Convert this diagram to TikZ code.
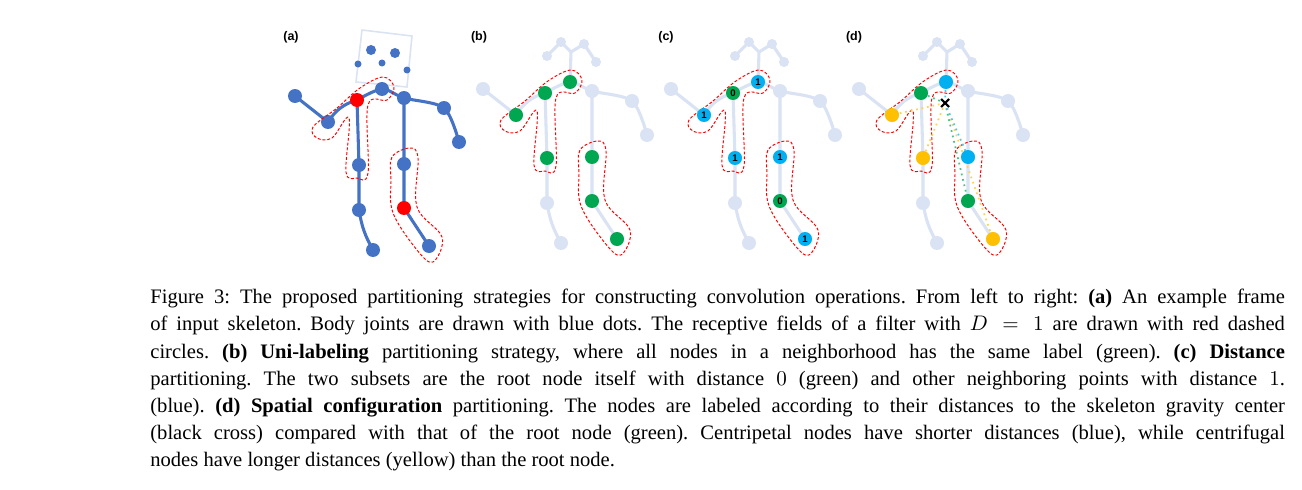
\documentclass[tikz,border=0pt]{standalone}
\usepackage{fontspec}
\setmainfont{Liberation Serif}
\newfontfamily\lsans{Liberation Sans}
\definecolor{jblue}{RGB}{68,114,196}
\definecolor{pale}{RGB}{218,227,243}
\definecolor{jgreen}{RGB}{0,166,80}
\definecolor{jcyan}{RGB}{0,176,240}
\definecolor{jyel}{RGB}{255,192,0}
\newcommand\defjoints[1]{%
 \coordinate (#1lh) at (295,96);
 \coordinate (#1le) at (328,122);
 \coordinate (#1ls) at (357,100);
 \coordinate (#1nk) at (382,89);
 \coordinate (#1rs) at (404,98);
 \coordinate (#1re) at (444,108);
 \coordinate (#1rh) at (459,142);
 \coordinate (#1lp) at (359,165);
 \coordinate (#1lk) at (359,210);
 \coordinate (#1lf) at (373,250);
 \coordinate (#1rp) at (404,164);
 \coordinate (#1rk) at (404,208);
 \coordinate (#1rf) at (429,246);}
\newcommand\hulls[1]{%
 \draw[hull] plot[smooth cycle,tension=0.6] coordinates {(313,127) (337,108) (360,88) (383,77) (394,87) (387,100) (368,105) (368,173) (357,178) (346,172) (349,118) (332,138) (317,138)};
 \draw[hull] plot[smooth cycle,tension=0.6] coordinates {(392,157) (410,148) (418,158) (417,207) (442,237) (433,262) (417,250) (393,213) (391,180)};}
\newcommand\skel[2]{% prefix, colour
 \draw[bone,#2] (#1lh) -- (#1le) to[bend left=20] (#1ls);
 \draw[bone,#2] plot[smooth] coordinates {(#1ls) (#1nk) (#1rs) (#1re) (#1rh)};
 \draw[bone,#2] (#1ls) -- (#1lp) -- (#1lk) to[bend right=10] (#1lf);
 \draw[bone,#2] (#1rs) -- (#1rp) -- (#1rk) -- (#1rf);}
\newcommand\paleskel[1]{%
 \defjoints{#1}
 \coordinate (#1ht) at ($(#1nk)+(1,-30)$);
 \coordinate (#1ey) at ($(#1nk)+(-9,-40)$);
 \coordinate (#1ea) at ($(#1nk)+(-23,-26)$);
 \coordinate (#1ry) at ($(#1nk)+(14,-38)$);
 \coordinate (#1ra) at ($(#1nk)+(26,-20)$);
 \skel{#1}{pale}
 \draw[bone,pale] (#1nk) -- (#1ht) -- (#1ey) -- (#1ea) (#1ht) -- (#1ry) -- (#1ra);
 \foreach \j in {lh,le,ls,nk,rs,re,rh,lp,lk,lf,rp,rk,rf} \fill[pale] (#1\j) circle (7);
 \foreach \j in {ey,ea,ry,ra} \fill[pale] (#1\j) circle (5);
 \hulls{#1}}
\usetikzlibrary{calc}
\begin{document}
\begin{tikzpicture}[x=0.52pt,y=-0.52pt,
 bone/.style={line width=1.6pt},
 hull/.style={red,dashed,line width=0.5pt,dash pattern=on 1.5pt off 1pt},
 lab/.style={font=\lsans\bfseries\fontsize{6.5}{7}\selectfont},
 num/.style={font=\lsans\bfseries\fontsize{5}{5}\selectfont,inner sep=0pt}]
\useasboundingbox (0,0) rectangle (1302,490);
\fill[white] (0,0) rectangle (1302,490);
% panel labels
\node[lab] (la) at (291,37) {(a)};
\node[lab] (lb) at (479,37) {(b)};
\node[lab] (lc) at (666,37) {(c)};
\node[lab] (ld) at (854,37) {(d)};
% (a)
\defjoints{a}
\draw[pale,line width=0.8pt] (362,30) -- (412,36) -- (407,87) -- (356,82) -- cycle;
\foreach \p/\r in {{(371,50)}/5,{(395,53)}/5,{(358,64)}/3.5,{(382,63)}/3.5,{(407,70)}/3.5} \fill[jblue] \p circle (\r);
\skel{a}{jblue}
\foreach \j in {lh,le,nk,rs,re,rh,lp,lk,lf,rp,rf} \fill[jblue] (a\j) circle (7);
\fill[red] (als) circle (7) (ark) circle (7);
\hulls{a}
% (b)
\begin{scope}[shift={(188,-7)}]
\paleskel{b}
\foreach \j in {le,ls,nk,lp,rp,rk,rf} \fill[jgreen] (b\j) circle (7);
\end{scope}
% (c)
\begin{scope}[shift={(376,-7)}]
\paleskel{c}
\foreach \j in {le,nk,lp,rp,rf} {\fill[jcyan] (c\j) circle (7); \node[num] at (c\j) {1};}
\foreach \j in {ls,rk} {\fill[jgreen] (c\j) circle (7); \node[num] at (c\j) {0};}
\end{scope}
% (d)
\begin{scope}[shift={(564,-7)}]
\paleskel{d}
\coordinate (dx) at (381,110);
\foreach \j in {le,lp,rf} \draw[jyel!70,dotted,line width=0.9pt] (dx) -- (d\j);
\foreach \j in {ls,rk} \draw[jgreen!70,dotted,line width=0.9pt] (dx) -- (d\j);
\foreach \j in {nk,rp} \draw[jcyan!70,dotted,line width=0.9pt] (dx) -- (d\j);
\foreach \j in {le,lp,rf} \fill[jyel] (d\j) circle (7);
\foreach \j in {ls,rk} \fill[jgreen] (d\j) circle (7);
\foreach \j in {nk,rp} \fill[jcyan] (d\j) circle (7);
\draw[line width=1.1pt] ($(dx)+(-4,-4)$) -- ($(dx)+(4,4)$) ($(dx)+(-4,4)$) -- ($(dx)+(4,-4)$);
\end{scope}
% caption
\node[anchor=north west,inner sep=0pt,text width=590pt,align=justify,font=\fontsize{10.7}{14.1}\selectfont] (cap) at (150,289) {\frenchspacing Figure 3: The proposed partitioning strategies for constructing convolution operations. From left to right: \textbf{(a)} An example frame\linebreak
of input skeleton. Body joints are drawn with blue dots. The receptive fields of a filter with $D = 1$ are drawn with red dashed\linebreak
circles. \textbf{(b) Uni-labeling} partitioning strategy, where all nodes in a neighborhood has the same label (green). \textbf{(c) Distance}\linebreak
partitioning. The two subsets are the root node itself with distance $0$ (green) and other neighboring points with distance $1$.\linebreak
(blue). \textbf{(d) Spatial configuration} partitioning. The nodes are labeled according to their distances to the skeleton gravity center\linebreak
(black cross) compared with that of the root node (green). Centripetal nodes have shorter distances (blue), while centrifugal\linebreak
nodes have longer distances (yellow) than the root node.};
\end{tikzpicture}
\end{document}
